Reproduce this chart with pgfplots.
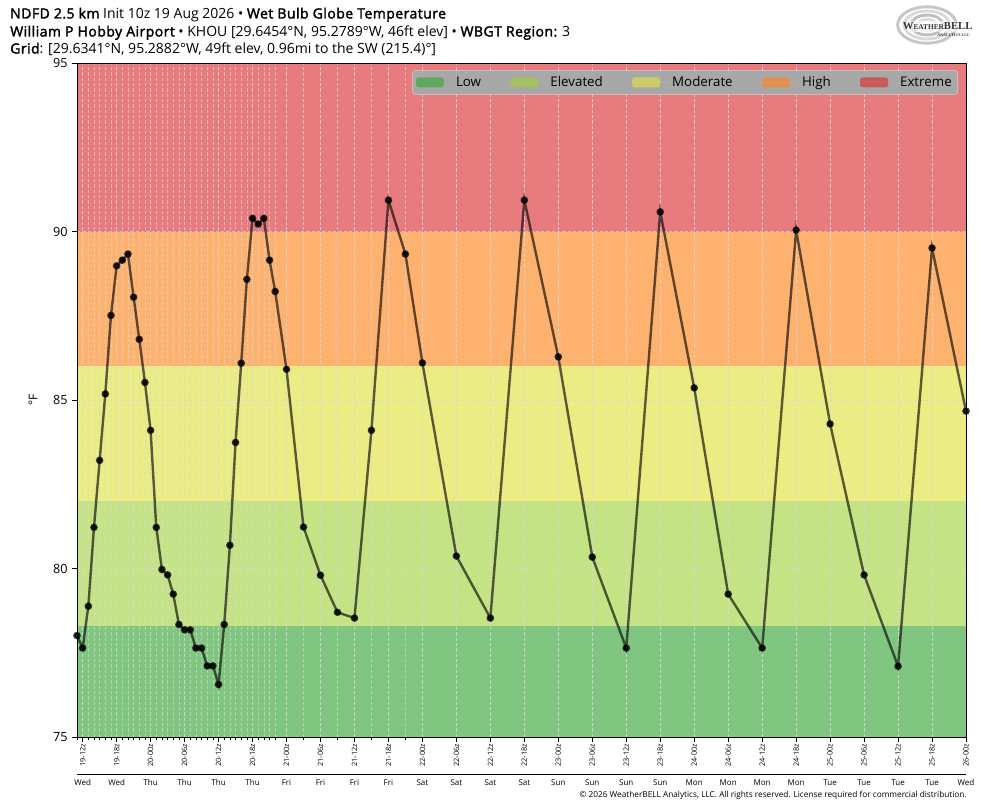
\documentclass[border=0pt]{standalone}
\usepackage{pgfplots}
\pgfplotsset{compat=1.18}
\usepackage{fontspec}
\setmainfont{Open Sans}[AutoFakeBold=2.2]
\newfontfamily\logofont{Liberation Serif}
\newcommand{\tb}[1]{{\bfseries\addfontfeatures{LetterSpace=3.3}#1}}
\definecolor{lowc}{RGB}{128,198,128}
\definecolor{elevc}{RGB}{196,227,132}
\definecolor{modc}{RGB}{236,236,132}
\definecolor{highc}{RGB}{254,178,111}
\definecolor{extc}{RGB}{231,123,125}
\definecolor{lowl}{RGB}{96,168,96}
\definecolor{elevl}{RGB}{164,192,96}
\definecolor{modl}{RGB}{204,204,102}
\definecolor{highl}{RGB}{224,144,80}
\definecolor{extl}{RGB}{200,90,90}
\definecolor{legbg}{RGB}{168,168,168}
\definecolor{legbd}{RGB}{205,205,205}
\definecolor{gridc}{RGB}{215,215,215}
\pgfplotstableread{
h v
11 78.01
12 77.64
13 78.88
14 81.22
15 83.21
16 85.18
17 87.51
18 88.98
19 89.15
20 89.33
21 88.05
22 86.80
23 85.52
24 84.10
25 81.22
26 79.97
27 79.81
28 79.24
29 78.34
30 78.18
31 78.18
32 77.64
33 77.64
34 77.11
35 77.11
36 76.56
37 78.34
38 80.69
39 83.74
40 86.09
41 88.58
42 90.39
43 90.22
44 90.39
45 89.15
46 88.22
48 85.91
51 81.23
54 79.80
57 78.70
60 78.53
63 84.10
66 90.93
69 89.33
72 86.10
78 80.37
84 78.53
90 90.93
96 86.28
102 80.34
108 77.64
114 90.58
120 85.36
126 79.24
132 77.64
138 90.04
144 84.29
150 79.81
156 77.10
162 89.51
168 84.67
}\wbgt
\begin{document}
\begin{tikzpicture}
\begin{axis}[
  set layers,
  at={(0pt,0pt)}, anchor=south west,
  scale only axis, width=666.75pt, height=505.5pt,
  xmin=11, xmax=168, ymin=75, ymax=95,
  xtick={12,18,...,168},
  xticklabels={19-12z,19-18z,20-00z,20-06z,20-12z,20-18z,21-00z,21-06z,21-12z,21-18z,22-00z,22-06z,22-12z,22-18z,23-00z,23-06z,23-12z,23-18z,24-00z,24-06z,24-12z,24-18z,25-00z,25-06z,25-12z,25-18z,26-00z},
  minor xtick={11,12,...,46,48,51,...,72,78,84,...,168},
  ytick={75,80,85,90,95},
  tick pos=left,
  tick align=outside,
  major tick length=3.5pt, minor tick length=2pt,
  tick style={black, line width=0.6pt},
  minor tick style={black, line width=0.5pt},
  axis line style={black, line width=0.7pt},
  xmajorgrids, xminorgrids, ymajorgrids,
  grid style={gridc, opacity=0.65, dash pattern=on 2.5pt off 1.5pt, line width=0.45pt},
  minor grid style={gridc, opacity=0.65, dash pattern=on 2.5pt off 1.5pt, line width=0.45pt},
  /pgf/number format/assume math mode=true,
  yticklabel style={font=\fontsize{9.5}{11}\selectfont},
  xticklabel style={rotate=90, anchor=east, font=\fontsize{5.5}{6}\selectfont, inner sep=1.5pt},
  legend columns=5,
  legend cell align=left,
  legend style={at={(0.991,0.9896)}, anchor=north east, fill=legbg, draw=legbd,
    rounded corners=2pt, font=\fontsize{10}{12}\selectfont,
    inner xsep=2.5pt, inner ysep=2.5pt,
    /tikz/every even column/.append style={column sep=20pt}},
]
\addplot[on layer=axis background, fill=lowc, draw=none, area legend,
  legend image code/.code={\fill[lowl] (0pt,-3.75pt) rectangle (21pt,3.75pt); \path (0pt,0pt) -- (28pt,0pt);}]
  coordinates {(11,75) (168,75) (168,78.3) (11,78.3)};
\addlegendentry{Low}
\addplot[on layer=axis background, fill=elevc, draw=none, area legend,
  legend image code/.code={\fill[elevl] (0pt,-3.75pt) rectangle (21pt,3.75pt); \path (0pt,0pt) -- (28pt,0pt);}]
  coordinates {(11,78.3) (168,78.3) (168,82) (11,82)};
\addlegendentry{Elevated}
\addplot[on layer=axis background, fill=modc, draw=none, area legend,
  legend image code/.code={\fill[modl] (0pt,-3.75pt) rectangle (21pt,3.75pt); \path (0pt,0pt) -- (28pt,0pt);}]
  coordinates {(11,82) (168,82) (168,86) (11,86)};
\addlegendentry{Moderate}
\addplot[on layer=axis background, fill=highc, draw=none, area legend,
  legend image code/.code={\fill[highl] (0pt,-3.75pt) rectangle (21pt,3.75pt); \path (0pt,0pt) -- (28pt,0pt);}]
  coordinates {(11,86) (168,86) (168,90) (11,90)};
\addlegendentry{High}
\addplot[on layer=axis background, fill=extc, draw=none, area legend,
  legend image code/.code={\fill[extl] (0pt,-3.75pt) rectangle (21pt,3.75pt); \path (0pt,0pt) -- (28pt,0pt);}]
  coordinates {(11,90) (168,90) (168,95) (11,95)};
\addlegendentry{Extreme}
\addplot[forget plot, draw=black, draw opacity=0.62, line width=1.8pt,
  mark=*, mark size=1.9pt, mark options={solid, fill=black, draw=black, fill opacity=0.78, draw opacity=0.78}]
  table[x=h, y=v] {\wbgt};
\end{axis}
% y label
\node[rotate=90, font=\fontsize{9}{10}\selectfont] at (-33pt,252.75pt) {°F};
% separator and day labels
\draw[black, line width=0.7pt] (0pt,-27.75pt) -- (666.75pt,-27.75pt);
\foreach \i/\d in {0/Wed,1/Wed,2/Thu,3/Thu,4/Thu,5/Thu,6/Fri,7/Fri,8/Fri,9/Fri,10/Sat,11/Sat,12/Sat,13/Sat,14/Sun,15/Sun,16/Sun,17/Sun,18/Mon,19/Mon,20/Mon,21/Mon,22/Tue,23/Tue,24/Tue,25/Tue,26/Wed}
  \node[font=\fontsize{6}{7}\selectfont, inner sep=0pt] at ({(4.2468+\i*25.4809)*1pt},-34.3pt) {\d};
% copyright
\node[anchor=base east, font=\fontsize{6.2}{7}\selectfont, inner sep=0pt] at (667.5pt,-45.2pt)
  {© 2026 WeatherBELL Analytics, LLC. All rights reserved. License required for commercial distribution.};
% titles
\node[anchor=base west, font=\fontsize{10.5}{12}\selectfont, inner sep=0pt] at (-50.25pt,538.9pt)
  {\tb{NDFD 2.5 km} Init 10z 19 Aug 2026 • \tb{Wet Bulb Globe Temperature}};
\node[anchor=base west, font=\fontsize{10.5}{12}\selectfont, inner sep=0pt] at (-50.25pt,525.4pt)
  {\tb{William P Hobby Airport} • KHOU [29.6454°N, 95.2789°W, 46ft elev] • \tb{WBGT Region:} 3};
\node[anchor=base west, font=\fontsize{10.5}{12}\selectfont, inner sep=0pt] at (-50.25pt,512.6pt)
  {\tb{Grid}: [29.6341°N, 95.2882°W, 49ft elev, 0.96mi to the SW (215.4)°]};
% logo
\begin{scope}[shift={(637.5pt,534pt)}]
  \foreach \r/\c in {22/gray!45,17/gray!30,12/gray!50,7/gray!25}
    \draw[\c, line width=2.2pt] (0pt,0pt) ellipse ({\r pt} and {0.62*\r pt});
  \fill[white, opacity=0.6] (-14pt,-5.5pt) rectangle (31pt,3pt);
  \node[anchor=base, font=\logofont\bfseries, text=gray!40!black, inner sep=0pt] at (8pt,-3.2pt)
    {{\fontsize{8}{8}\selectfont W}{\fontsize{5.5}{6}\selectfont EATHER}{\fontsize{8}{8}\selectfont BELL}};
  \node[anchor=base, font=\logofont\bfseries\fontsize{3}{3}\selectfont, text=gray!40!black, inner sep=0pt] at (20pt,-8.5pt)
    {ANALYTICS LLC};
\end{scope}
\pgfresetboundingbox
\path[use as bounding box] (-57.75pt,-53.25pt) rectangle (680.25pt,552.75pt);
\end{tikzpicture}
\end{document}
